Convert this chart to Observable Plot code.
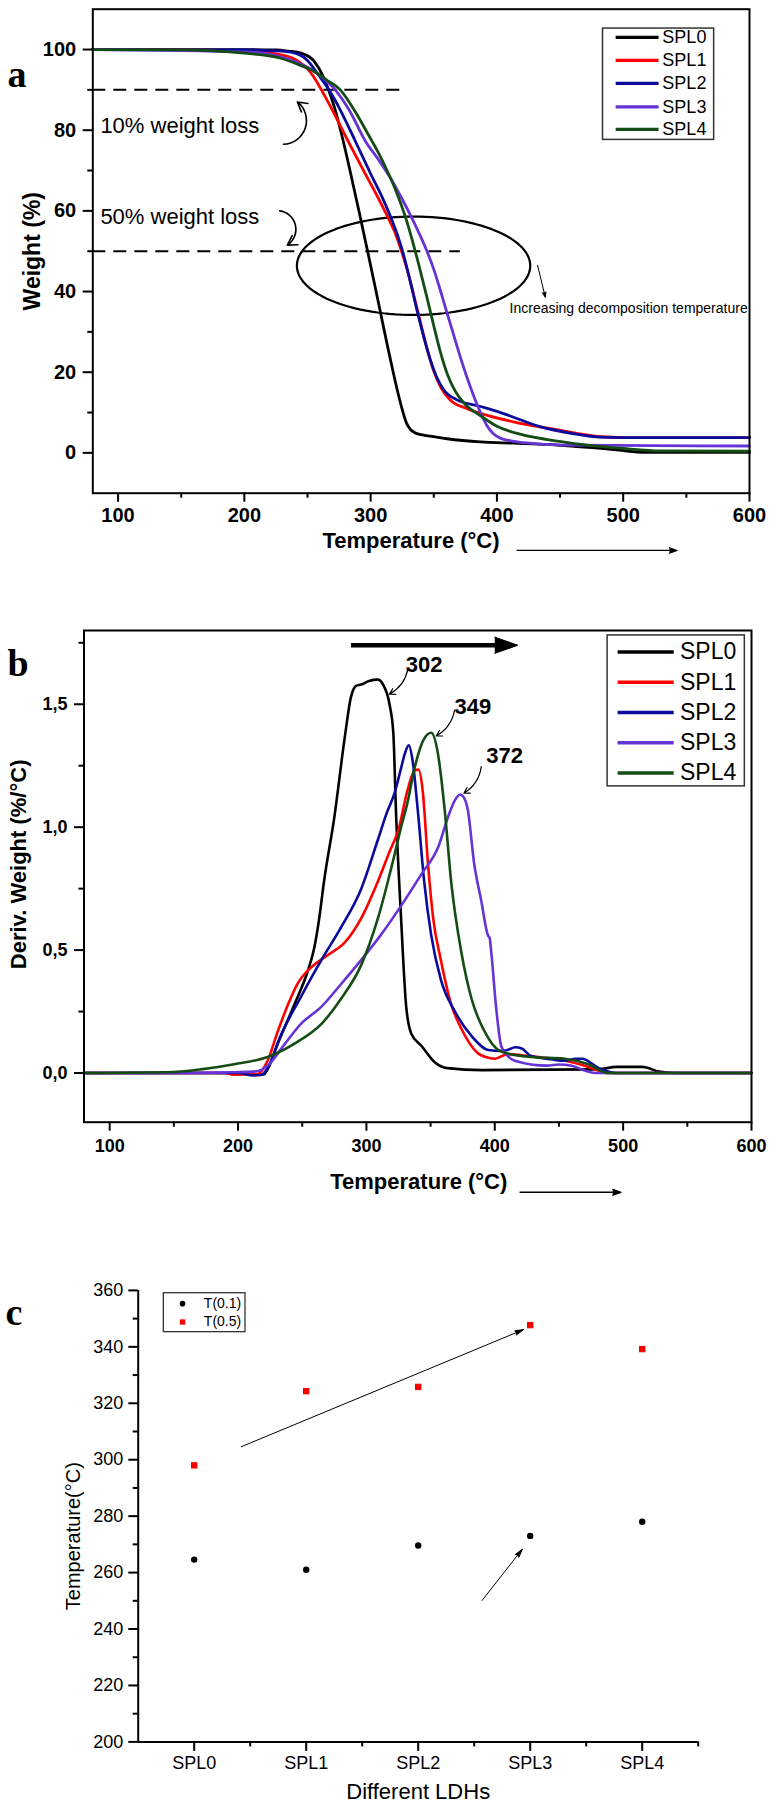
<!DOCTYPE html>
<html><head><meta charset="utf-8">
<script src="https://cdn.jsdelivr.net/npm/d3@7"></script>
<script src="https://cdn.jsdelivr.net/npm/@observablehq/plot@0.6"></script>
<style>
body{margin:0;background:#fff;width:778px;}
#chart svg{display:block;}
</style></head><body><div id="chart"></div>
<script>
// ---------- DATA ----------
const series = ["SPL0", "SPL1", "SPL2", "SPL3", "SPL4"];
const seriesColors = ["#000000", "#ff0000", "#0a0a9c", "#6633d6", "#144d14"];

// Panel a: TGA weight (%) vs temperature (°C)
const tgaSPL0 = [[80,100],[200,100],[225,99.9],[235,99.6],[245,99.1],[255,97.2],[262,93.6],[266,90.5],[271,86],[277,79],[284,69.5],[291,59.6],[297.6,50],[303,42],[308,34.5],[313,27],[318,19.8],[322,14.4],[325.5,10.2],[328.5,7.3],[331.5,5.8],[335,5.0],[340,4.5],[350,4.0],[360.5,3.5],[387,2.7],[413,2.4],[440,2.1],[466,1.5],[490,0.9],[505,0.4],[520,0.1],[600,0.1]];
const tgaSPL1 = [[80,100],[150,100],[200,99.6],[225,98.9],[240,97.6],[245,96.6],[250,95.2],[255,93.2],[261,90],[270,84.8],[281,78],[294,70.2],[305,63.8],[314,58.2],[319,54.8],[324.5,50],[330,44.2],[335,38],[340,31.6],[345,25.5],[350,20.3],[356,16],[363,13.1],[376,11],[387,9.8],[413,7.7],[445,5.9],[482,4],[500,3.8],[600,3.8]];
const tgaSPL2 = [[80,100],[200,99.9],[230,99.6],[243,98.8],[250,97.3],[258,94],[267,90],[276,85],[288,77.2],[300,69.2],[310,62.8],[317,57.6],[321,54.2],[325,50.3],[331,43],[337,35],[342,28.8],[347,23.3],[352,19],[358,15.6],[368,13.2],[387,11.5],[400,10.3],[410,9.2],[434,6.5],[460,4.8],[482,3.9],[500,3.8],[600,3.8]];
const tgaSPL3 = [[80,100],[200,99.4],[220,98.8],[235,97.6],[250,95.6],[262,93],[272,90],[283,85],[296,77.2],[306,72.8],[316,68],[324,63.5],[331.4,59],[338,54.7],[344.6,50],[350,45.5],[355,40.5],[360,35.2],[365,30],[370,24.8],[376,19],[382,13.8],[387,10],[392,6.8],[397,4.8],[403,3.6],[415,2.8],[430,2.3],[460,1.9],[600,1.7]];
const tgaSPL4 = [[80,100],[150,99.9],[200,99.1],[228,97.9],[245,96],[255,94.6],[265,92.5],[276,90],[287,85],[298,79],[306,74.5],[313,70],[320,65],[327,59],[333,52.7],[338,46.8],[344,39.3],[350,31.5],[355,25.3],[361,19.3],[367,15.3],[374,12.3],[387,9.2],[400,6.6],[420,4.5],[440,3.3],[470,2],[500,1.1],[530,0.5],[600,0.4]];

// Panel b: DTG derivative weight (%/°C) vs temperature (°C)
const dtgSPL0 = [[80,0],[200,0],[210,-0.006],[220,-0.006],[223,0.015],[231,0.12],[244,0.28],[254,0.41],[259,0.5],[263,0.62],[267,0.78],[275,1.04],[283,1.36],[288,1.53],[292,1.575],[296,1.58],[302,1.595],[309,1.6],[313,1.58],[318,1.5],[321,1.38],[323,1.07],[327,0.63],[331,0.27],[335,0.16],[343,0.11],[353,0.045],[363,0.02],[390,0.012],[480,0.015],[495,0.025],[515,0.025],[528,0.006],[540,0],[600,0]];
const dtgSPL1 = [[80,0],[190,0],[197,-0.007],[215,-0.005],[223,0.05],[231,0.17],[239,0.28],[246,0.36],[257,0.43],[270,0.48],[283,0.53],[296,0.63],[309,0.78],[318,0.9],[325,0.99],[332,1.15],[337.5,1.23],[340.6,1.234],[344,1.14],[348,0.85],[352,0.63],[358,0.46],[366,0.28],[374,0.18],[387,0.08],[393,0.065],[400,0.058],[410,0.077],[428,0.068],[455,0.05],[473,0.025],[488,0],[600,0]];
const dtgSPL2 = [[80,0],[200,0],[212,-0.01],[218,-0.008],[223,0.02],[233,0.15],[249,0.31],[265,0.46],[280,0.59],[296,0.75],[309,0.95],[316,1.06],[322,1.14],[327,1.24],[330,1.3],[333,1.333],[336,1.27],[340,1.07],[345,0.78],[350.5,0.56],[358,0.38],[369,0.25],[382,0.15],[395,0.094],[405,0.09],[410,0.094],[416,0.105],[421,0.1],[428,0.07],[445,0.055],[455,0.05],[463,0.058],[468,0.058],[481,0.02],[494,0],[600,0]];
const dtgSPL3 = [[80,0],[160,0],[197,0.003],[215,0.007],[225,0.04],[233,0.094],[249,0.2],[265,0.27],[280,0.36],[296,0.46],[311,0.56],[327,0.68],[343,0.81],[356,0.92],[363.5,1.04],[369,1.11],[373,1.133],[376,1.12],[379,1.07],[384,0.85],[389.5,0.7],[394.7,0.56],[396,0.55],[397.3,0.49],[401,0.27],[405,0.11],[410,0.07],[415.5,0.05],[441,0.03],[450,0.035],[460,0.03],[470,0.01],[478,0],[600,0]];
const dtgSPL4 = [[80,0],[145,0.003],[171,0.015],[197,0.036],[223,0.065],[244,0.12],[265,0.2],[280,0.3],[296,0.44],[309,0.63],[322,0.89],[327,1.0],[332,1.1],[337.5,1.24],[345,1.36],[350.5,1.384],[355.7,1.3],[361,1.07],[366,0.78],[374,0.49],[382,0.3],[392,0.17],[405,0.087],[428.5,0.065],[454.5,0.058],[473,0.036],[488,0],[600,0]];

// Peak labels (panel b)
const peakLabels = ["302", "349", "372"];

// Panel c: decomposition temperatures
const ldhs = ["SPL0", "SPL1", "SPL2", "SPL3", "SPL4"];
const t01 = [264.6, 261.0, 269.6, 273.0, 278.0];
const t05 = [298.0, 324.3, 325.8, 347.7, 339.2];

// Tick values
const xTicksAB = [100, 200, 300, 400, 500, 600];
const xMinorAB = [150, 250, 350, 450, 550];
const yTicksA = [0, 20, 40, 60, 80, 100];
const yMinorA = [10, 30, 50, 70, 90];
const yTicksB = [0, 0.5, 1.0, 1.5];
const yMinorB = [0.25, 0.75, 1.25, 1.75];
const yTicksC = [200, 220, 240, 260, 280, 300, 320, 340, 360];
const yMinorC = [210, 230, 250, 270, 290, 310, 330, 350];

// ---------- HELPERS ----------
const sans = "'Liberation Sans', Arial, Helvetica, sans-serif";
const serif = "'Liberation Serif', 'Times New Roman', serif";
const rows = (name, pairs) => pairs.map(([x, y]) => ({series: name, x, y}));
const tgaRows = [
  ...rows("SPL0", tgaSPL0), ...rows("SPL1", tgaSPL1), ...rows("SPL2", tgaSPL2),
  ...rows("SPL3", tgaSPL3), ...rows("SPL4", tgaSPL4)];
const dtgRows = [
  ...rows("SPL0", dtgSPL0), ...rows("SPL1", dtgSPL1), ...rows("SPL2", dtgSPL2),
  ...rows("SPL3", dtgSPL3), ...rows("SPL4", dtgSPL4)];
const colorScale = {domain: series, range: seriesColors};
const root = document.getElementById("chart");

// ---------- PANEL A ----------
const legA = {x1: 484, x2: 572, y1: 77.6, y2: 105.2, lx1: 494, lx2: 528, tx: 531, ys: [103.0, 97.3, 91.6, 85.8, 80.2]};
const ell = {cx: 334, cy: 46.4, rx: 92.4, ry: 12.2};
const ellPts = d3.range(0, 361, 3).map(a => ({x: ell.cx + ell.rx * Math.cos(a * Math.PI / 180), y: ell.cy + ell.ry * Math.sin(a * Math.PI / 180)}));

const plotA = Plot.plot({
  width: 778, height: 570,
  marginTop: 8.7, marginBottom: 77.3, marginLeft: 92.3, marginRight: 29,
  x: {domain: [80, 600]},
  y: {domain: [-10, 110]},
  color: colorScale,
  style: {fontFamily: sans, background: "white", color: "black"},
  marks: [
    Plot.ruleY([90], {x1: 80, x2: 326, stroke: "black", strokeWidth: 2, strokeDasharray: "13,8"}),
    Plot.ruleY([50], {x1: 80, x2: 371, stroke: "black", strokeWidth: 2, strokeDasharray: "13,8"}),
    Plot.line(ellPts, {x: "x", y: "y", stroke: "black", strokeWidth: 2.2}),
    Plot.line(tgaRows, {x: "x", y: "y", z: "series", stroke: "series", strokeWidth: 2.8, curve: "monotone-x"}),
    Plot.frame({stroke: "black", strokeWidth: 2}),
    Plot.axisX(xTicksAB, {tickSize: 9, tickPadding: 6, fontSize: 20, fontWeight: "bold", strokeWidth: 2, label: null}),
    Plot.axisX(xMinorAB, {tickSize: 5, strokeWidth: 2, tickFormat: () => "", label: null}),
    Plot.axisY(yTicksA, {tickSize: 9.6, tickPadding: 7, fontSize: 20, fontWeight: "bold", strokeWidth: 2, label: null}),
    Plot.axisY(yMinorA, {tickSize: 5, strokeWidth: 2, tickFormat: () => "", label: null}),
    Plot.text(["10% weight loss"], {x: 86, y: 81, textAnchor: "start", fontSize: 22}),
    Plot.text(["50% weight loss"], {x: 86, y: 58.4, textAnchor: "start", fontSize: 22}),
    Plot.arrow([0], {x1: 231, y1: 76.5, x2: 242, y2: 87, bend: -70, stroke: "black", strokeWidth: 1.6, headLength: 10}),
    Plot.arrow([0], {x1: 228, y1: 60, x2: 234, y2: 51.5, bend: 70, stroke: "black", strokeWidth: 1.6, headLength: 10}),
    Plot.arrow([0], {x1: 432.2, y1: 46.5, x2: 438.3, y2: 38.6, stroke: "black", fill: "black", strokeWidth: 1, headLength: 8, headAngle: 40}),
    Plot.text(["Increasing decomposition temperature"], {x: 410, y: 35.7, textAnchor: "start", fontSize: 14}),
    Plot.rect([0], {x1: legA.x1, x2: legA.x2, y1: legA.y1, y2: legA.y2, fill: "white", stroke: "#333", strokeWidth: 1.5}),
    Plot.link(series, {x1: legA.lx1, x2: legA.lx2, y1: (d, i) => legA.ys[i], y2: (d, i) => legA.ys[i], stroke: d => d, strokeWidth: 3.2}),
    Plot.text(series, {x: legA.tx, y: (d, i) => legA.ys[i], text: d => d, textAnchor: "start", fontSize: 18}),
    Plot.text(["Weight (%)"], {frameAnchor: "left", textAnchor: "middle", dx: -60.6, rotate: -90, fontSize: 23, fontWeight: "bold"}),
    Plot.text(["Temperature (°C)"], {x: 332, frameAnchor: "bottom", dy: 55, fontSize: 22, fontWeight: "bold"}),
    Plot.arrow([0], {x1: 416, y1: -24.2, x2: 542.6, y2: -24.2, stroke: "black", fill: "black", strokeWidth: 1.2, headLength: 10, headAngle: 40}),
    Plot.text(["a"], {frameAnchor: "top-left", dx: -85.3, dy: 78, textAnchor: "start", lineAnchor: "bottom", fontSize: 38, fontWeight: "bold", fontFamily: serif})
  ]
});
root.appendChild(plotA);

// ---------- PANEL B ----------
const legB = {x1: 487.9, x2: 594.8, y1: 1.166, y2: 1.78, lx1: 495.7, lx2: 539.4, tx: 544.3, ys: [1.713, 1.59, 1.466, 1.343, 1.22]};
const bigArrow = {x1: 288, x2: 402, tip: 418, y: 1.74, half: 0.033};
const headPts = [{x: bigArrow.x2 - 2, y: bigArrow.y + bigArrow.half}, {x: bigArrow.tip, y: bigArrow.y}, {x: bigArrow.x2 - 2, y: bigArrow.y - bigArrow.half}];
const peakLabelPos = [{x: 345, y: 1.66}, {x: 383, y: 1.49}, {x: 407.7, y: 1.29}];
const peakArrows = [
  {x1: 332.3, y1: 1.643, x2: 317.9, y2: 1.541},
  {x1: 368.7, y1: 1.476, x2: 354.4, y2: 1.371},
  {x1: 389.5, y1: 1.246, x2: 376, y2: 1.138}];

const plotB = Plot.plot({
  width: 778, height: 650,
  marginTop: 60, marginBottom: 98.3, marginLeft: 83.5, marginRight: 27,
  x: {domain: [80, 600]},
  y: {domain: [-0.2, 1.8]},
  color: colorScale,
  style: {fontFamily: sans, background: "white", color: "black"},
  marks: [
    Plot.line(dtgRows, {x: "x", y: "y", z: "series", stroke: "series", strokeWidth: 2.6, curve: "monotone-x"}),
    Plot.frame({stroke: "black", strokeWidth: 2}),
    Plot.axisX(xTicksAB, {tickSize: 9, tickPadding: 8, fontSize: 18, fontWeight: "bold", strokeWidth: 2, label: null}),
    Plot.axisX(xMinorAB, {tickSize: 5, strokeWidth: 2, tickFormat: () => "", label: null}),
    Plot.axisY(yTicksB, {tickSize: 9.5, tickPadding: 7, fontSize: 18, fontWeight: "bold", strokeWidth: 2, label: null, tickFormat: d => d.toFixed(1).replace(".", ",")}),
    Plot.axisY(yMinorB, {tickSize: 5, strokeWidth: 2, tickFormat: () => "", label: null}),
    Plot.link([0], {x1: bigArrow.x1, x2: bigArrow.x2, y1: bigArrow.y, y2: bigArrow.y, stroke: "black", strokeWidth: 4.5}),
    Plot.line(headPts, {x: "x", y: "y", fill: "black", stroke: "black", strokeWidth: 1}),
    Plot.text(peakLabels, {x: (d, i) => peakLabelPos[i].x, y: (d, i) => peakLabelPos[i].y, text: d => d, fontSize: 22, fontWeight: "bold"}),
    Plot.arrow(peakArrows, {x1: "x1", y1: "y1", x2: "x2", y2: "y2", bend: 25, stroke: "black", strokeWidth: 1.2, headLength: 8}),
    Plot.rect([0], {x1: legB.x1, x2: legB.x2, y1: legB.y1, y2: legB.y2, fill: "white", stroke: "#333", strokeWidth: 1.5}),
    Plot.link(series, {x1: legB.lx1, x2: legB.lx2, y1: (d, i) => legB.ys[i], y2: (d, i) => legB.ys[i], stroke: d => d, strokeWidth: 3.5}),
    Plot.text(series, {x: legB.tx, y: (d, i) => legB.ys[i], text: d => d, textAnchor: "start", fontSize: 23}),
    Plot.text(["Deriv. Weight (%/°C)"], {frameAnchor: "left", textAnchor: "middle", dx: -65, dy: -12, rotate: -90, fontSize: 22, fontWeight: "bold"}),
    Plot.text(["Temperature (°C)"], {x: 340.8, frameAnchor: "bottom", dy: 66.3, fontSize: 22, fontWeight: "bold"}),
    Plot.arrow([0], {x1: 419.7, y1: -0.485, x2: 498.3, y2: -0.485, stroke: "black", fill: "black", strokeWidth: 1.3, headLength: 10, headAngle: 40}),
    Plot.text(["b"], {frameAnchor: "top-left", dx: -76.5, dy: 45, textAnchor: "start", lineAnchor: "bottom", fontSize: 38, fontWeight: "bold", fontFamily: serif})
  ]
});
root.appendChild(plotB);

// ---------- PANEL C ----------
const pts = ldhs.map((s, i) => ({i, s, t01: t01[i], t05: t05[i]}));
const legC = {x1: -0.271, x2: 0.458, y1: 345.2, y2: 359.0, mx: -0.104, tx: 0.086, ys: [355.3, 348.8]};
const trendArrows = [
  {x1: 0.42, y1: 304.6, x2: 2.94, y2: 346.1},
  {x1: 2.57, y1: 250.1, x2: 2.93, y2: 268.3}];

const plotC = Plot.plot({
  width: 778, height: 599,
  marginTop: 69.9, marginBottom: 77.6, marginLeft: 137.7, marginRight: 80.3,
  x: {domain: [-0.5, 4.5]},
  y: {domain: [200, 360]},
  style: {fontFamily: sans, background: "white", color: "black"},
  marks: [
    Plot.ruleX([-0.5], {y1: 200, y2: 360, stroke: "black", strokeWidth: 2}),
    Plot.ruleY([200], {x1: -0.5, x2: 4.5, stroke: "black", strokeWidth: 2}),
    Plot.axisX([0, 1, 2, 3, 4], {tickSize: 9.5, tickPadding: 4.4, fontSize: 18, strokeWidth: 2, label: null, tickFormat: i => ldhs[i]}),
    Plot.axisX([0.5, 1.5, 2.5, 3.5, 4.5], {tickSize: 5, strokeWidth: 2, tickFormat: () => "", label: null}),
    Plot.axisY(yTicksC, {tickSize: 9.4, tickPadding: 5.6, fontSize: 18, strokeWidth: 2, label: null}),
    Plot.axisY(yMinorC, {tickSize: 5, strokeWidth: 2, tickFormat: () => "", label: null}),
    Plot.dot(pts, {x: "i", y: "t01", r: 3.2, fill: "black", stroke: "none"}),
    Plot.dot(pts, {x: "i", y: "t05", r: 3.6, symbol: "square", fill: "#ff0000", stroke: "none"}),
    Plot.arrow(trendArrows, {x1: "x1", y1: "y1", x2: "x2", y2: "y2", stroke: "black", fill: "black", strokeWidth: 1, headLength: 13, headAngle: 30}),
    Plot.rect([0], {x1: legC.x1, x2: legC.x2, y1: legC.y1, y2: legC.y2, fill: "white", stroke: "#333", strokeWidth: 1.3}),
    Plot.dot([0], {x: legC.mx, y: legC.ys[0], r: 2.8, fill: "black", stroke: "none"}),
    Plot.dot([0], {x: legC.mx, y: legC.ys[1], r: 3, symbol: "square", fill: "#ff0000", stroke: "none"}),
    Plot.text(["T(0.1)", "T(0.5)"], {x: legC.tx, y: (d, i) => legC.ys[i], text: d => d, textAnchor: "start", fontSize: 14}),
    Plot.text(["Temperature(°C)"], {frameAnchor: "left", textAnchor: "middle", dx: -64.4, dy: 20, rotate: -90, fontSize: 20}),
    Plot.text(["Different LDHs"], {x: 2, frameAnchor: "bottom", dy: 57.3, fontSize: 22}),
    Plot.text(["c"], {frameAnchor: "top-left", dx: -132.7, dy: 35, textAnchor: "start", lineAnchor: "bottom", fontSize: 38, fontWeight: "bold", fontFamily: serif})
  ]
});
root.appendChild(plotC);
</script>
</body></html>
